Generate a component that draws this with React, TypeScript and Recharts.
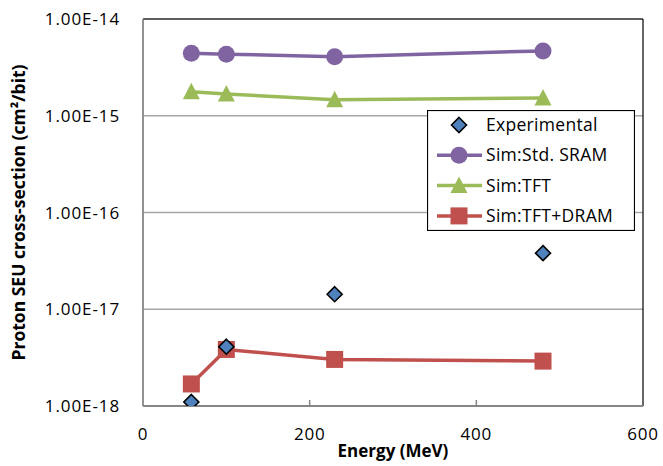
import React from "react";
import {
  ComposedChart,
  Line,
  XAxis,
  YAxis,
  CartesianGrid,
  Legend,
  ReferenceLine,
  Label,
} from "recharts";

const ENERGY = [58, 100, 230, 480];
const EXPERIMENTAL = [1.1e-18, 4.1e-18, 1.43e-17, 3.8e-17];
const SIM_SRAM = [4.43e-15, 4.33e-15, 4.08e-15, 4.68e-15];
const SIM_TFT = [1.77e-15, 1.68e-15, 1.46e-15, 1.53e-15];
const SIM_TFT_DRAM = [1.69e-18, 3.84e-18, 3.03e-18, 2.91e-18];

const X_TICKS = [0, 200, 400, 600];
const Y_TICKS = [1e-18, 1e-17, 1e-16, 1e-15, 1e-14];

const BLUE = "#4F81BD";
const PURPLE = "#8064A2";
const GREEN = "#9BBB59";
const RED = "#C0504D";
const AXIS = "#868686";
const FONT = "'Open Sans', sans-serif";

const data = ENERGY.map((e, i) => ({
  energy: e,
  exp: EXPERIMENTAL[i],
  sram: SIM_SRAM[i],
  tft: SIM_TFT[i],
  dram: SIM_TFT_DRAM[i],
}));

const formatSci = (v: number) => {
  const exp = Math.round(Math.log10(v));
  return `1.00E${exp < 0 ? "-" : "+"}${String(Math.abs(exp)).padStart(2, "0")}`;
};

function diamond(cx: number, cy: number, key?: string) {
  const r = 7.5;
  return (
    <path
      key={key}
      d={`M${cx},${cy - r}L${cx + r},${cy}L${cx},${cy + r}L${cx - r},${cy}Z`}
      fill={BLUE}
      stroke="#000"
      strokeWidth={1.6}
    />
  );
}

function circle(cx: number, cy: number, key?: string) {
  return <circle key={key} cx={cx} cy={cy} r={8.5} fill={PURPLE} />;
}

function triangle(cx: number, cy: number, key?: string) {
  return (
    <path
      key={key}
      d={`M${cx},${cy - 9}L${cx + 8.5},${cy + 7.5}L${cx - 8.5},${cy + 7.5}Z`}
      fill={GREEN}
    />
  );
}

function square(cx: number, cy: number, key?: string) {
  return <rect key={key} x={cx - 8.5} y={cy - 8.5} width={17} height={17} fill={RED} />;
}

const dotOf =
  (fn: (cx: number, cy: number, key?: string) => React.ReactElement, name: string) =>
  (p: any) =>
    fn(p.cx, p.cy, `${name}-${p.index}`);

const LEGEND_ITEMS = [
  { label: "Experimental", color: BLUE, mark: diamond, line: false },
  { label: "Sim:Std. SRAM", color: PURPLE, mark: circle, line: true },
  { label: "Sim:TFT", color: GREEN, mark: triangle, line: true },
  { label: "Sim:TFT+DRAM", color: RED, mark: square, line: true },
];

function LegendBox() {
  return (
    <svg width={208} height={121} style={{ display: "block" }}>
      <rect x={0.5} y={0.5} width={207} height={120} fill="#fff" stroke="#000" strokeWidth={1.2} />
      {LEGEND_ITEMS.map((it, i) => {
        const cy = 15 + i * 30.3;
        return (
          <g key={it.label}>
            {it.line && (
              <line x1={10} x2={55} y1={cy} y2={cy} stroke={it.color} strokeWidth={3.5} />
            )}
            {it.mark(32, cy)}
            <text
              x={59}
              y={cy + 6}
              fontFamily={FONT}
              fontSize={17.5}
              fill="#000"
              letterSpacing={0.3}
            >
              {it.label}
            </text>
          </g>
        );
      })}
    </svg>
  );
}

function XTick(props: any) {
  const { x, y, payload } = props;
  return (
    <g>
      {payload.value !== 0 && payload.value !== 600 && (
        <line x1={x} x2={x} y1={y} y2={y - 6} stroke={AXIS} strokeWidth={1.5} />
      )}
      <text
        x={x}
        y={y + 34}
        textAnchor="middle"
        fontFamily={FONT}
        fontSize={17}
        fill="#000"
        letterSpacing={0.8}
      >
        {payload.value}
      </text>
    </g>
  );
}

export default function App() {
  return (
    <div style={{ position: "fixed", left: 0, top: 0, width: 663, height: 466, background: "#fff" }}>
      <ComposedChart
        width={663}
        height={466}
        data={data}
        margin={{ top: 19, right: 20, left: 0, bottom: 0 }}
      >
        <CartesianGrid horizontal vertical={false} stroke="#A6A6A6" strokeWidth={1.3} />
        <XAxis
          dataKey="energy"
          type="number"
          domain={[0, 600]}
          ticks={X_TICKS}
          height={60}
          axisLine={{ stroke: AXIS, strokeWidth: 1.8 }}
          tickLine={false}
          tickSize={0}
          tickMargin={0}
          tick={<XTick />}
        >
          <Label
            value="Energy (MeV)"
            position="insideBottom"
            offset={9}
            style={{ fontFamily: FONT, fontSize: 17, fontWeight: 700, fill: "#000" }}
          />
        </XAxis>
        <YAxis
          type="number"
          scale="log"
          domain={[1e-18, 1e-14]}
          ticks={Y_TICKS}
          allowDataOverflow
          width={143}
          axisLine={{ stroke: AXIS, strokeWidth: 1.8 }}
          tickLine={false}
          tickSize={0}
          tickMargin={23}
          tickFormatter={formatSci}
          tick={{ fontFamily: FONT, fontSize: 17, fill: "#000", letterSpacing: 0.9 }}
        >
          <Label
            value="Proton SEU cross-section (cm²/bit)"
            angle={-90}
            position="insideLeft"
            offset={19}
            style={{ fontFamily: FONT, fontSize: 17.5, fontWeight: 700, fill: "#000", textAnchor: "middle" }}
          />
        </YAxis>
        <ReferenceLine y={1e-14} stroke="#000" strokeWidth={1.2} />
        <ReferenceLine x={600} stroke="#000" strokeWidth={1.2} />
        <Legend
          layout="horizontal"
          verticalAlign="middle"
          align="center"
          content={() => <LegendBox />}
          wrapperStyle={{ position: "absolute", left: 427, top: 110, width: 208, height: 121, bottom: "auto" }}
        />
        <Line
          dataKey="sram"
          stroke={PURPLE}
          strokeWidth={3.5}
          dot={dotOf(circle, "sram")}
          activeDot={false}
          isAnimationActive={false}
        />
        <Line
          dataKey="tft"
          stroke={GREEN}
          strokeWidth={3.5}
          dot={dotOf(triangle, "tft")}
          activeDot={false}
          isAnimationActive={false}
        />
        <Line
          dataKey="dram"
          stroke={RED}
          strokeWidth={3.5}
          dot={dotOf(square, "dram")}
          activeDot={false}
          isAnimationActive={false}
        />
        <Line
          dataKey="exp"
          stroke="none"
          dot={dotOf(diamond, "exp")}
          activeDot={false}
          isAnimationActive={false}
        />
      </ComposedChart>
    </div>
  );
}
